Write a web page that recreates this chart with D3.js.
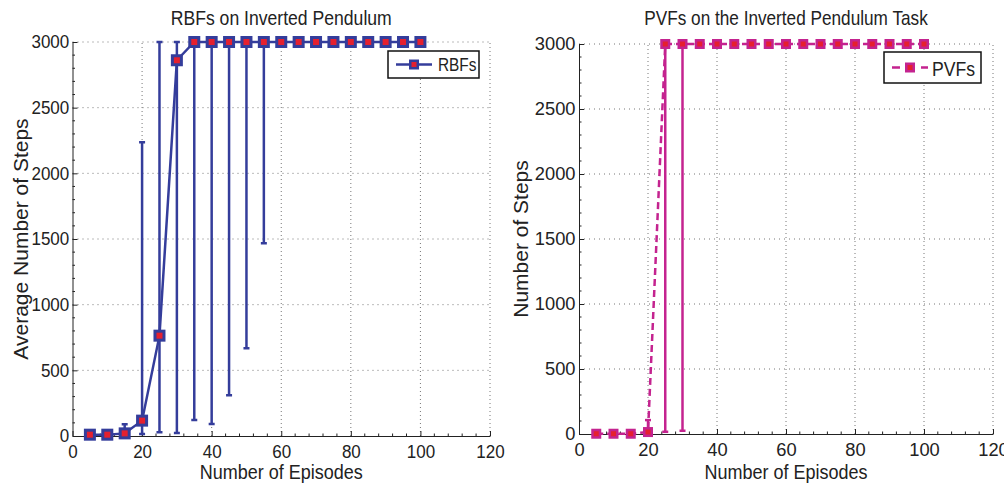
<!DOCTYPE html>
<html>
<head>
<meta charset="utf-8">
<script src="https://cdn.jsdelivr.net/npm/d3@7"></script>
<style>
  body { margin: 0; background: #fff; }
  svg text { font-family: "Liberation Sans", Arial, Helvetica, sans-serif; fill: #222; }
</style>
</head>
<body>
<svg id="chart" width="1004" height="483"></svg>
<script>
// episodes at which the policies were evaluated
const episodes = [5, 10, 15, 20, 25, 30, 35, 40, 45, 50, 55, 60, 65, 70, 75, 80, 85, 90, 95, 100];

// RBFs: mean steps and error bar ends (null = no bar drawn)
const rbfMean = [10, 10, 20, 117, 764, 2861, 3000, 3000, 3000, 3000, 3000, 3000, 3000, 3000, 3000, 3000, 3000, 3000, 3000, 3000];
const rbfLow  = [null, null, -50, 15, 28, 22, 122, 91, 310, 668, 1467, null, null, null, null, null, null, null, null, null];
const rbfHigh = [null, null, 90, 2236, 3000, 3000, 5878, 5909, 5690, 5332, 4533, null, null, null, null, null, null, null, null, null];

// PVFs
const pvfMean = [2, 2, 2, 15, 3000, 3000, 3000, 3000, 3000, 3000, 3000, 3000, 3000, 3000, 3000, 3000, 3000, 3000, 3000, 3000];
const pvfLow  = [null, null, null, -77, 17, 25, null, null, null, null, null, null, null, null, null, null, null, null, null, null];
const pvfHigh = [null, null, null, 107, 5983, 5975, null, null, null, null, null, null, null, null, null, null, null, null, null, null];

const xTicks = [0, 20, 40, 60, 80, 100, 120];
const yTicks = [0, 500, 1000, 1500, 2000, 2500, 3000];

const svg = d3.select("#chart");

// the figure was squeezed sideways, so horizontal texts get a scaleX
const panels = [
  {
    id: "rbf", left: 72.5, right: 490, top: 42, bottom: 436,
    title: "RBFs on Inverted Pendulum", titleScale: 0.88,
    ylabel: "Average Number of Steps", ylabelX: 28,
    tickScale: 0.92,
    mean: rbfMean, low: rbfLow, high: rbfHigh,
    colour: "#343d9b", dash: null, marker: 9, markerStroke: 3,
    legend: { x: 388, y: 51, w: 91, h: 27, name: "RBFs", size: 17.5, scale: 0.88,
              textX: 50, base: 20, dash: null, lm: 7.5, lms: 2.5 }
  },
  {
    id: "pvf", left: 579, right: 993, top: 44, bottom: 434,
    title: "PVFs on the Inverted Pendulum Task", titleScale: 0.86,
    ylabel: "Number of Steps", ylabelX: 528,
    tickScale: 0.99,
    mean: pvfMean, low: pvfLow, high: pvfHigh,
    colour: "#c4238f", dash: "7,4", marker: 7.5, markerStroke: 2.5,
    legend: { x: 884, y: 52, w: 97, h: 31, name: "PVFs", size: 21, scale: 0.84,
              textX: 48, base: 23.5, dash: "8,21,8", lm: 7.5, lms: 2.5 }
  }
];

const faceColour = "#e5202e";

panels.forEach(p => drawPanel(svg, p));

function hText(parent, x, y, size, scale, anchor, text) {
  return parent.append("text")
    .attr("transform", `translate(${x},${y}) scale(${scale},1)`)
    .attr("text-anchor", anchor)
    .style("font-size", size + "px")
    .text(text);
}

function drawPanel(svg, p) {
  const x = d3.scaleLinear().domain([0, 120]).range([p.left, p.right]);
  const y = d3.scaleLinear().domain([0, 3000]).range([p.bottom, p.top]);
  const g = svg.append("g").attr("id", "panel-" + p.id);

  // dotted grid
  g.append("g").selectAll("line")
    .data(xTicks.slice(1))
    .join("line")
    .attr("x1", d => x(d)).attr("x2", d => x(d))
    .attr("y1", y(0)).attr("y2", y(3000))
    .attr("stroke", "#777").attr("stroke-width", 1)
    .attr("stroke-dasharray", "1,3");
  g.append("g").selectAll("line")
    .data(yTicks.slice(1))
    .join("line")
    .attr("x1", x(0)).attr("x2", x(120))
    .attr("y1", d => y(d)).attr("y2", d => y(d))
    .attr("stroke", "#777").attr("stroke-width", 1)
    .attr("stroke-dasharray", "1,4");

  // minor ticks
  const xMinor = d3.range(0, 121, 4).filter(v => v % 20 !== 0);
  const yMinor = d3.range(0, 3001, 100).filter(v => v % 500 !== 0);
  g.append("g").selectAll("line")
    .data(xMinor)
    .join("line")
    .attr("x1", d => x(d)).attr("x2", d => x(d))
    .attr("y1", y(0)).attr("y2", y(0) - 2.5)
    .attr("stroke", "#222");
  g.append("g").selectAll("line")
    .data(yMinor)
    .join("line")
    .attr("x1", x(0)).attr("x2", x(0) + 2.5)
    .attr("y1", d => y(d)).attr("y2", d => y(d))
    .attr("stroke", "#222");

  // axes
  const fmt = d3.format("d");
  const xAxis = d3.axisBottom(x).tickValues(xTicks).tickFormat(fmt)
    .tickSizeInner(-5).tickSizeOuter(0).tickPadding(9);
  const yAxis = d3.axisLeft(y).tickValues(yTicks).tickFormat(fmt)
    .tickSizeInner(-5).tickSizeOuter(0).tickPadding(3.5);
  const gx = g.append("g").attr("transform", `translate(0,${p.bottom})`).call(xAxis);
  const gy = g.append("g").attr("transform", `translate(${p.left},0)`).call(yAxis);
  [gx, gy].forEach(a => {
    a.selectAll("path, line").attr("stroke", "#222");
    a.selectAll("text")
      .style("font-size", "18.5px")
      .attr("transform", `scale(${p.tickScale},1)`);
  });

  // error bars, clipped to the axes box
  const clipId = "clip-" + p.id;
  svg.append("clipPath").attr("id", clipId)
    .append("rect")
    .attr("x", p.left).attr("y", p.top - 2)
    .attr("width", p.right - p.left).attr("height", p.bottom - p.top + 3);

  const bars = episodes
    .map((e, i) => ({ e, lo: p.low[i], hi: p.high[i] }))
    .filter(d => d.lo != null);

  const eg = g.append("g").attr("clip-path", `url(#${clipId})`)
    .attr("stroke", p.colour).attr("stroke-width", 2.5);
  eg.selectAll(".stem").data(bars).join("line")
    .attr("class", "stem")
    .attr("x1", d => x(d.e)).attr("x2", d => x(d.e))
    .attr("y1", d => y(d.lo)).attr("y2", d => y(d.hi));
  eg.selectAll(".cap-lo").data(bars).join("line")
    .attr("class", "cap-lo")
    .attr("x1", d => x(d.e) - 3).attr("x2", d => x(d.e) + 3)
    .attr("y1", d => y(d.lo)).attr("y2", d => y(d.lo));
  eg.selectAll(".cap-hi").data(bars).join("line")
    .attr("class", "cap-hi")
    .attr("x1", d => x(d.e) - 3).attr("x2", d => x(d.e) + 3)
    .attr("y1", d => y(d.hi)).attr("y2", d => y(d.hi));

  // mean line
  const pts = episodes.map((e, i) => ({ e, v: p.mean[i] }));
  g.append("path")
    .datum(pts)
    .attr("d", d3.line().x(d => x(d.e)).y(d => y(d.v)))
    .attr("fill", "none")
    .attr("stroke", p.colour)
    .attr("stroke-width", 2.5)
    .attr("stroke-dasharray", p.dash);

  // square markers
  g.append("g").selectAll("rect")
    .data(pts)
    .join("rect")
    .attr("x", d => x(d.e) - p.marker / 2)
    .attr("y", d => y(d.v) - p.marker / 2)
    .attr("width", p.marker).attr("height", p.marker)
    .attr("fill", faceColour)
    .attr("stroke", p.colour)
    .attr("stroke-width", p.markerStroke);

  // texts
  const cx = (p.left + p.right) / 2;
  const cy = (p.top + p.bottom) / 2;
  hText(g, cx, 25, 20, p.titleScale, "middle", p.title);
  hText(g, cx, 479, 20, 0.9, "middle", "Number of Episodes");
  g.append("text")
    .attr("transform", `translate(${p.ylabelX},${cy}) rotate(-90)`)
    .attr("text-anchor", "middle")
    .style("font-size", "21px")
    .text(p.ylabel);

  // legend
  const L = p.legend;
  const lg = g.append("g").attr("transform", `translate(${L.x},${L.y})`);
  lg.append("rect")
    .attr("width", L.w).attr("height", L.h)
    .attr("fill", "#fff").attr("stroke", "#111").attr("stroke-width", 1.5);
  const my = L.h / 2;
  lg.append("line")
    .attr("x1", 8).attr("x2", 44)
    .attr("y1", my).attr("y2", my)
    .attr("stroke", p.colour).attr("stroke-width", 2.5)
    .attr("stroke-dasharray", L.dash);
  lg.append("rect")
    .attr("x", 26 - L.lm / 2).attr("y", my - L.lm / 2)
    .attr("width", L.lm).attr("height", L.lm)
    .attr("fill", faceColour)
    .attr("stroke", p.colour)
    .attr("stroke-width", L.lms);
  hText(lg, L.textX, L.base, L.size, L.scale, "start", L.name);
}
</script>
</body>
</html>
